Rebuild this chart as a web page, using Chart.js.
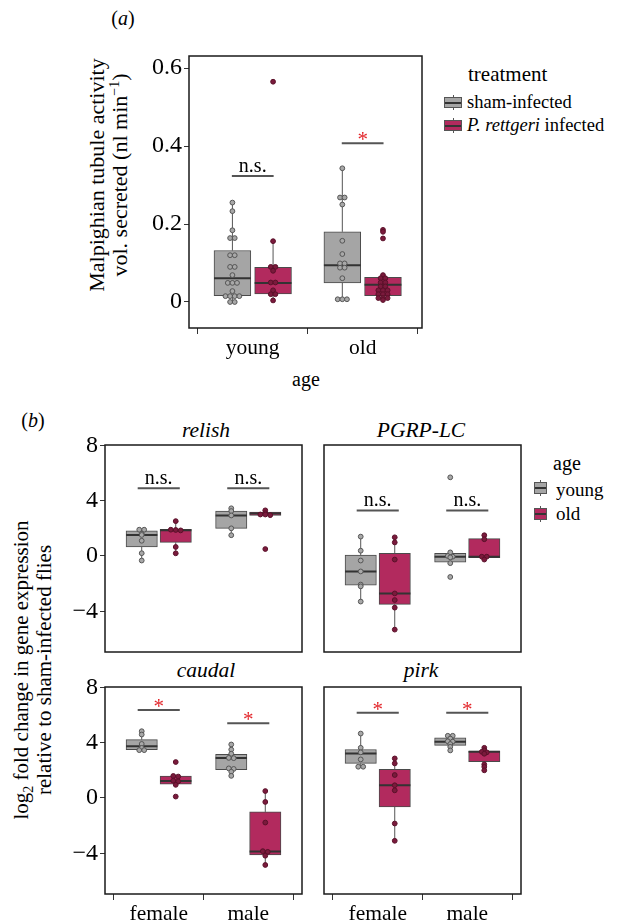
<!DOCTYPE html>
<html>
<head>
<meta charset="utf-8">
<script src="https://cdn.jsdelivr.net/npm/chart.js@4.4.0/dist/chart.umd.min.js"></script>
<style>
  body { margin: 0; background: #fff; }
  #fig { position: relative; width: 623px; height: 923px; overflow: hidden; font-family: "Liberation Serif", "DejaVu Serif", serif; color: #000; }
  #fig canvas { position: absolute; }
  .lbl { position: absolute; white-space: nowrap; line-height: 1; }
  .ctr { transform: translate(-50%, -50%); }
  .lft { transform: translate(0, -50%); }
  .rot { transform: translate(-50%, -50%) rotate(-90deg); text-align: center; line-height: 23px; }
  sup, sub { font-size: 14px; line-height: 0; }
</style>
</head>
<body>
<div id="fig">
  <div class="lbl ctr" style="left:123px;top:18px;font-size:20px;">(<i>a</i>)</div>
  <div class="lbl ctr" style="left:33px;top:420px;font-size:20px;">(<i>b</i>)</div>

  <div class="lbl rot" style="left:108px;top:175px;font-size:22px;">Malpighian tubule activity<br>vol. secreted (nl min<sup>−1</sup>)</div>
  <div class="lbl ctr" style="left:306px;top:379px;font-size:20px;">age</div>

  <div class="lbl lft" style="left:468px;top:74px;font-size:21px;">treatment</div>
  <div class="lbl lft" style="left:467px;top:102px;font-size:18.5px;">sham-infected</div>
  <div class="lbl lft" style="left:467px;top:125px;font-size:18.5px;"><i>P. rettgeri</i> infected</div>

  <div class="lbl rot" style="left:33px;top:670px;font-size:21px;">log<sub>2</sub> fold change in gene expression<br>relative to sham-infected flies</div>

  <div class="lbl ctr" style="left:206px;top:431px;font-size:21.5px;"><i>relish</i></div>
  <div class="lbl ctr" style="left:421px;top:431px;font-size:21.5px;"><i>PGRP-LC</i></div>
  <div class="lbl ctr" style="left:206px;top:671px;font-size:21.5px;"><i>caudal</i></div>
  <div class="lbl ctr" style="left:421px;top:671px;font-size:21.5px;"><i>pirk</i></div>

  <div class="lbl lft" style="left:553px;top:463px;font-size:20px;">age</div>
  <div class="lbl lft" style="left:556px;top:489px;font-size:19px;">young</div>
  <div class="lbl lft" style="left:556px;top:513px;font-size:19px;">old</div>
</div>
<script>
// ---- panel (a): Malpighian tubule activity ----
const ageGroups = ['young', 'old'];
// groups: young sham, young infected, old sham, old infected
const mtLow    = [0.0, 0.004, 0.007, 0.005];
const mtQ1     = [0.016, 0.021, 0.049, 0.0165];
const mtMedian = [0.061, 0.049, 0.094, 0.044];
const mtQ3     = [0.132, 0.089, 0.180, 0.0635];
const mtHigh   = [0.255, 0.156, 0.343, 0.069];
const mtPoints = [
  [0.255, 0.233, 0.184, 0.164, 0.164, 0.12, 0.12, 0.09, 0.09, 0.069, 0.049, 0.049, 0.049, 0.028, 0.015, 0.015, 0.015, 0.015, 0.0, 0.0],
  [0.565, 0.156, 0.09, 0.09, 0.08, 0.05, 0.05, 0.03, 0.02, 0.02, 0.004],
  [0.343, 0.268, 0.268, 0.25, 0.157, 0.123, 0.099, 0.099, 0.088, 0.088, 0.061, 0.007, 0.007, 0.007],
  [0.185, 0.18, 0.163, 0.069, 0.061, 0.061, 0.05, 0.05, 0.04, 0.04, 0.03, 0.03, 0.03, 0.02, 0.02, 0.02, 0.01, 0.01, 0.01, 0.005]
];
const mtSigY = [0.323, 0.407];
const mtSigLabel = ['n.s.', '*'];
const mtYTicks = [0, 0.2, 0.4, 0.6];
const mtYTickLabels = ['0', '0.2', '0.4', '0.6'];

// ---- panel (b): log2 fold change, per gene ----
const sexes = ['female', 'male'];
const genes = ['relish', 'PGRP-LC', 'caudal', 'pirk'];
// groups per gene: female young, female old, male young, male old
const geneLow = [
  [-0.33, 0.19, 1.5, 2.93],
  [-3.3, -5.33, -0.52, -0.26],
  [3.46, 0.94, 1.59, -4.85],
  [2.26, -3.1, 3.44, 2.0]
];
const geneQ1 = [
  [0.66, 0.98, 2.0, 2.93],
  [-2.12, -3.5, -0.45, -0.12],
  [3.5, 0.99, 2.04, -4.13],
  [2.5, -0.65, 3.8, 2.62]
];
const geneMedian = [
  [1.52, 1.86, 2.93, 3.07],
  [-1.12, -2.71, -0.05, -0.05],
  [3.74, 1.23, 2.9, -3.87],
  [3.22, 0.92, 4.06, 3.34]
];
const geneQ3 = [
  [1.81, 1.93, 3.24, 3.17],
  [0.07, 0.19, 0.19, 1.26],
  [4.22, 1.59, 3.15, -1.01],
  [3.51, 2.07, 4.35, 3.39]
];
const geneHigh = [
  [1.9, 2.52, 3.45, 3.3],
  [1.4, 1.35, 0.26, 1.5],
  [4.83, 1.59, 3.87, 0.5],
  [4.66, 2.86, 4.52, 3.68]
];
const genePoints = [
  [[1.9, 1.9, 1.6, 1.52, 1.1, 0.2, -0.33], [2.52, 1.9, 1.88, 1.85, 0.65, 0.19], [3.45, 3.25, 2.93, 2.0, 1.5], [3.3, 3.1, 3.0, 3.0, 2.95, 0.5]],
  [[1.4, 0.38, -0.33, -1.12, -2.07, -2.2, -3.3], [1.35, 0.98, -0.26, -2.71, -3.19, -3.74, -5.33], [5.69, 0.26, 0.0, -0.05, -0.1, -0.52, -1.52], [1.5, 1.21, -0.05, -0.05, -0.26]],
  [[4.83, 4.59, 3.91, 3.62, 3.46, 3.46], [2.6, 1.59, 1.55, 1.25, 1.2, 0.95, 0.1], [3.87, 3.5, 3.2, 2.9, 2.88, 2.14, 2.1, 1.9, 1.6], [0.5, -0.29, -1.78, -3.85, -3.9, -4.18, -4.85]],
  [[4.66, 3.63, 3.3, 2.79, 2.26, 2.26], [2.86, 2.5, 1.66, 0.92, 0.55, -1.85, -3.1], [4.5, 4.5, 4.3, 4.1, 4.08, 3.9, 3.7, 3.44], [3.63, 3.45, 3.34, 3.3, 3.2, 2.43, 2.25, 2.0]]
];
const geneSigY = [[4.9, 4.9], [3.29, 3.29], [6.37, 5.4], [6.17, 6.17]];
const geneSigLabel = [['n.s.', 'n.s.'], ['n.s.', 'n.s.'], ['*', '*'], ['*', '*']];
const geneYTicks = [-4, 0, 4, 8];
const geneYTickLabels = ['−4', '0', '4', '8'];

const FONT = '"Liberation Serif", "DejaVu Serif", serif';
const GRAY = '#a5a5a5';
const PINK = '#b22a5e';
const fig = document.getElementById('fig');

// stack points with (nearly) equal values side by side, like a centred dotplot
function dotOffsets(vals, binw, step) {
  const s = vals.slice().sort((a, b) => b - a);
  const out = [];
  let i = 0;
  while (i < s.length) {
    let j = i;
    while (j + 1 < s.length && s[i] - s[j + 1] <= binw) j++;
    const n = j - i + 1;
    for (let k = 0; k < n; k++) out.push({ v: s[i + k], off: (k - (n - 1) / 2) * step });
    i = j + 1;
  }
  return out;
}

const frameAndSig = {
  id: 'frameAndSig',
  afterDatasetsDraw(chart, args, opts) {
    const { ctx, scales: { x, y } } = chart;
    const a = chart.chartArea;
    ctx.save();
    ctx.textAlign = 'center';
    ctx.textBaseline = 'alphabetic';
    opts.labels.forEach((t, k) => {
      const star = t === '*';
      ctx.fillStyle = star ? '#e3262b' : '#000';
      ctx.font = (star ? '21px ' : '20px ') + FONT;
      ctx.fillText(t, x.getPixelForValue(k + 1), y.getPixelForValue(opts.ys[k]) + (star ? 3 : -4));
    });
    ctx.strokeStyle = '#1a1a1a';
    ctx.lineWidth = 1.5;
    ctx.strokeRect(a.left, a.top, a.right - a.left, a.bottom - a.top);
    ctx.restore();
  }
};

function boxChart(area, o) {
  const padL = 64, padT = 24, padR = 8, padB = 40;
  const cv = document.createElement('canvas');
  cv.width = area.width + padL + padR;
  cv.height = area.height + padT + padB;
  cv.style.left = (area.left - padL) + 'px';
  cv.style.top = (area.top - padT) + 'px';
  fig.appendChild(cv);

  const centers = o.q1.map((v, i) => Math.floor(i / 2) + 1 + (i % 2 ? o.dodge : -o.dodge));
  const boxes = centers.map((c, i) => ({ x: c, y: [o.q1[i], o.q3[i]] }));
  const whiskers = [], medians = [], sig = [], grayPts = [], pinkPts = [];
  centers.forEach((c, i) => {
    whiskers.push({ x: c, y: o.low[i] }, { x: c, y: o.q1[i] }, { x: c, y: null },
                  { x: c, y: o.q3[i] }, { x: c, y: o.high[i] }, { x: c, y: null });
    medians.push({ x: c - o.boxW / 2, y: o.med[i] }, { x: c + o.boxW / 2, y: o.med[i] }, { x: c, y: null });
    dotOffsets(o.points[i], o.binw, o.step).forEach(p => {
      (i % 2 ? pinkPts : grayPts).push({ x: c + p.off, y: p.v });
    });
  });
  o.sigY.forEach((y, k) => {
    sig.push({ x: k + 1 - o.sigHalf, y: y }, { x: k + 1 + o.sigHalf, y: y }, { x: k + 1, y: null });
  });
  const pxPerUnit = area.width / (o.xMax - o.xMin);

  new Chart(cv, {
    type: 'bar',
    data: {
      datasets: [
        { type: 'line', data: whiskers, borderColor: '#555', borderWidth: 1, pointRadius: 0, spanGaps: false, order: 4 },
        { type: 'bar', data: boxes, backgroundColor: centers.map((c, i) => i % 2 ? PINK : GRAY),
          borderColor: '#4a4a4a', borderWidth: 1, borderSkipped: false,
          barThickness: o.boxW * pxPerUnit, order: 3 },
        { type: 'line', data: medians, borderColor: '#333', borderWidth: 2, pointRadius: 0, spanGaps: false, order: 2 },
        { type: 'line', data: sig, borderColor: '#555', borderWidth: 2, pointRadius: 0, spanGaps: false, order: 2 },
        { type: 'scatter', data: grayPts, pointRadius: 2.4, pointBackgroundColor: '#a8a8a8', pointBorderColor: '#555', pointBorderWidth: 1, order: 1 },
        { type: 'scatter', data: pinkPts, pointRadius: 2.4, pointBackgroundColor: '#7a1a3c', pointBorderColor: '#5a1029', pointBorderWidth: 1, order: 0 }
      ]
    },
    options: {
      responsive: false,
      animation: false,
      layout: { padding: { top: padT, right: padR, left: 0, bottom: 0 } },
      plugins: {
        legend: { display: false },
        tooltip: { enabled: false },
        frameAndSig: { labels: o.sigLabel, ys: o.sigY }
      },
      scales: {
        x: {
          type: 'linear', min: o.xMin, max: o.xMax, offset: false,
          afterBuildTicks: s => { s.ticks = o.cats.map((c, i) => ({ value: i + 1 })); },
          afterFit: s => { s.height = padB; },
          ticks: { display: o.showX, callback: (v, i) => o.cats[i], font: { family: FONT, size: 21.5 }, color: '#000', padding: 1, maxRotation: 0, autoSkip: false },
          grid: { display: o.showX, drawOnChartArea: false, drawTicks: true, tickLength: 6, color: '#333' },
          border: { display: false }
        },
        y: {
          min: o.yMin, max: o.yMax,
          afterBuildTicks: s => { s.ticks = o.yTicks.map(v => ({ value: v })); },
          afterFit: s => { s.width = padL; },
          ticks: { display: o.showY, callback: (v, i) => o.yTickLabels[i], font: { family: FONT, size: 24 }, color: '#000', padding: 2 },
          grid: { display: o.showY, drawOnChartArea: false, drawTicks: true, tickLength: 5, color: '#333' },
          border: { display: false }
        }
      }
    },
    plugins: [frameAndSig]
  });
}

boxChart({ left: 189, top: 56, width: 233, height: 272 }, {
  cats: ageGroups, xMin: 0.42, xMax: 2.54, yMin: -0.0667, yMax: 0.631,
  yTicks: mtYTicks, yTickLabels: mtYTickLabels,
  low: mtLow, q1: mtQ1, med: mtMedian, q3: mtQ3, high: mtHigh, points: mtPoints,
  sigY: mtSigY, sigLabel: mtSigLabel, sigHalf: 0.19,
  dodge: 0.185, boxW: 0.335, binw: 0.004, step: 0.042, showX: true, showY: true
});

const geneAreas = [
  { left: 105, top: 445, width: 197, height: 207 },
  { left: 324, top: 445, width: 197, height: 207 },
  { left: 105, top: 687, width: 197, height: 207 },
  { left: 324, top: 687, width: 197, height: 207 }
];
genes.forEach((g, gi) => {
  boxChart(geneAreas[gi], {
    cats: sexes, xMin: 0.4, xMax: 2.6, yMin: -6.95, yMax: 8.03,
    yTicks: geneYTicks, yTickLabels: geneYTickLabels,
    low: geneLow[gi], q1: geneQ1[gi], med: geneMedian[gi], q3: geneQ3[gi], high: geneHigh[gi], points: genePoints[gi],
    sigY: geneSigY[gi], sigLabel: geneSigLabel[gi], sigHalf: 0.235,
    dodge: 0.19, boxW: 0.35, binw: 0.06, step: 0.055,
    showX: gi >= 2, showY: gi % 2 === 0
  });
});

// legend keys (small boxplot glyphs)
function key(x, y, w, h, color) {
  const k = document.createElement('div');
  k.style.cssText = `position:absolute;left:${x}px;top:${y}px;width:${w}px;height:${h}px;`;
  k.innerHTML =
    `<div style="position:absolute;left:${w / 2 - 0.5}px;top:0;width:1px;height:${h}px;background:#555"></div>` +
    `<div style="position:absolute;left:0;top:2px;width:${w}px;height:${h - 4}px;box-sizing:border-box;border:1px solid #555;background:${color}"></div>` +
    `<div style="position:absolute;left:1px;top:${h / 2 - 1}px;width:${w - 2}px;height:2px;background:#333"></div>`;
  fig.appendChild(k);
}
key(444, 95, 18, 15, GRAY);
key(444, 118, 18, 15, PINK);
key(534, 480, 13, 16, GRAY);
key(534, 506, 13, 16, PINK);
</script>
</body>
</html>
